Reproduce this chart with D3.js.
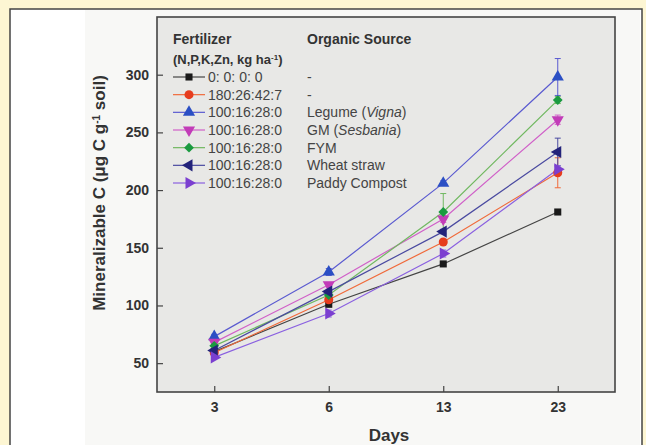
<!DOCTYPE html>
<html><head><meta charset="utf-8">
<script src="https://cdn.jsdelivr.net/npm/d3@7"></script>
<style>
html,body{margin:0;padding:0;background:#fdf6d3;}
svg{display:block;font-family:"Liberation Sans",Arial,sans-serif;}
</style></head>
<body>
<svg id="chart" width="646" height="445"></svg>
<script>
// ---- data ----
const days = ["3", "6", "13", "23"];
const fertilizer = ["0: 0: 0: 0", "180:26:42:7", "100:16:28:0", "100:16:28:0", "100:16:28:0", "100:16:28:0", "100:16:28:0"];
const organic = [["-"], ["-"], ["Legume (", "Vigna", ")"], ["GM (", "Sesbania", ")"], ["FYM"], ["Wheat straw"], ["Paddy Compost"]];
const control   = [60, 101, 136, 181];
const npkzn     = [59, 105, 155, 215];
const legume    = [73, 129, 206, 298];
const gm        = [68, 118, 175, 261];
const fym       = [65, 109, 181, 278];
const wheat     = [61, 112, 164, 233];
const paddy     = [55, 93, 145, 218];
const errControl = [1, 1, 1, 1];
const errNpkzn   = [1, 2, 2, 13];
const errLegume  = [2, 3, 2, 16];
const errGm      = [1, 2, 3, 4];
const errFym     = [1, 2, 16, 3];
const errWheat   = [1, 2, 2, 12];
const errPaddy   = [1, 3, 3, 3];
const yTicks = [50, 100, 150, 200, 250, 300];

const seriesVals = [control, npkzn, legume, gm, fym, wheat, paddy];
const seriesErr = [errControl, errNpkzn, errLegume, errGm, errFym, errWheat, errPaddy];
const colors = ["#1a1a1a", "#e63c1e", "#2b4fc4", "#c23cb8", "#1a9a40", "#23237a", "#7b3fd0"];
const lineColors = ["#444444", "#f06a3a", "#5a5ad0", "#d060c8", "#70b860", "#4a4aa0", "#8a60e0"];
// symbol type, rotation, size
const symbols = [[d3.symbolSquare, 0, 50], [d3.symbolCircle, 0, 64], [d3.symbolTriangle, 0, 64], [d3.symbolTriangle, 180, 64],
                 [d3.symbolSquare, 45, 48], [d3.symbolTriangle, -90, 64], [d3.symbolTriangle, 90, 64]];

const series = seriesVals.map((v, i) => ({
  i, color: colors[i], line: lineColors[i],
  pts: days.map((d, j) => ({day: d, v: v[j], e: seriesErr[i][j]}))
}));

const svg = d3.select("#chart");

// frame
svg.append("rect").attr("x", 10).attr("y", 9).attr("width", 632).attr("height", 445)
  .attr("fill", "#ffffff").attr("stroke", "#444").attr("stroke-width", 1.5);
svg.append("rect").attr("x", 85).attr("y", 10).attr("width", 555).attr("height", 440).attr("fill", "#f8f8f6");

const L = 157, R = 615, T = 17, B = 392;
const x = d3.scalePoint().domain(days).range([L, R]).padding(0.5);
const y = d3.scaleLinear().domain([25, 350]).range([B, T]);

// plot background
svg.append("rect").attr("x", L).attr("y", T).attr("width", R - L).attr("height", B - T)
  .attr("fill", "#e8e8e6");

// axes
const gx = svg.append("g").attr("transform", `translate(0,${B})`)
  .call(d3.axisBottom(x).tickSizeInner(-6).tickSizeOuter(0).tickPadding(10));
const gy = svg.append("g").attr("transform", `translate(${L},0)`)
  .call(d3.axisLeft(y).tickValues(yTicks).tickSizeInner(-6).tickSizeOuter(0).tickPadding(8).tickFormat(d3.format("d")));
[gx, gy].forEach(g => {
  g.select(".domain").remove();
  g.selectAll(".tick line").attr("stroke", "#444").attr("stroke-width", 1.2);
  g.selectAll(".tick text").attr("fill", "#333").attr("font-size", 14).attr("font-weight", "bold")
    .attr("font-family", "Liberation Sans, Arial, sans-serif");
});

// plot border
svg.append("rect").attr("x", L).attr("y", T).attr("width", R - L).attr("height", B - T)
  .attr("fill", "none").attr("stroke", "#444").attr("stroke-width", 1.6);

// axis titles
svg.append("text").attr("x", (L + R) / 2 + 3).attr("y", 441).attr("text-anchor", "middle")
  .attr("font-size", 17).attr("font-weight", "bold").attr("fill", "#333").text("Days");
const yt = svg.append("text").attr("transform", "translate(105,193) rotate(-90)").attr("text-anchor", "middle")
  .attr("font-size", 17).attr("font-weight", "bold").attr("fill", "#333");
yt.append("tspan").text("Mineralizable C (μg C g");
yt.append("tspan").attr("baseline-shift", "super").attr("font-size", 10).text("-1");
yt.append("tspan").text(" soil)");

// lines
const line = d3.line().x(d => x(d.day)).y(d => y(d.v));
const gS = svg.append("g");
series.forEach(s => {
  gS.append("path").datum(s.pts).attr("d", line).attr("fill", "none")
    .attr("stroke", s.line).attr("stroke-width", 1.2);
});
// error bars
series.forEach(s => {
  const g = gS.append("g").attr("stroke", s.line).attr("stroke-width", 1);
  s.pts.forEach(p => {
    if (p.e < 2) return;
    const cx = x(p.day);
    g.append("line").attr("x1", cx).attr("x2", cx).attr("y1", y(p.v - p.e)).attr("y2", y(p.v + p.e));
    [p.v - p.e, p.v + p.e].forEach(vv => g.append("line").attr("x1", cx - 3).attr("x2", cx + 3).attr("y1", y(vv)).attr("y2", y(vv)));
  });
});
// markers
function sym(i) { return d3.symbol().type(symbols[i][0]).size(symbols[i][2])(); }
series.forEach(s => {
  gS.selectAll(null).data(s.pts).join("path")
    .attr("d", sym(s.i))
    .attr("transform", d => `translate(${x(d.day)},${y(d.v)}) rotate(${symbols[s.i][1]})`)
    .attr("fill", s.color);
});

// legend
const lg = svg.append("g").attr("fill", "#333");
lg.append("text").attr("x", 173).attr("y", 44).attr("font-size", 14).attr("font-weight", "bold").text("Fertilizer");
lg.append("text").attr("x", 307).attr("y", 44).attr("font-size", 14).attr("font-weight", "bold").text("Organic Source");
const sub = lg.append("text").attr("x", 173).attr("y", 64).attr("font-size", 13).attr("font-weight", "bold");
sub.append("tspan").text("(N,P,K,Zn, kg ha");
sub.append("tspan").attr("baseline-shift", "super").attr("font-size", 8).text("-1");
sub.append("tspan").text(")");
const rowY = d3.scaleLinear().domain([0, 6]).range([77, 183]);
series.forEach(s => {
  const yy = rowY(s.i);
  lg.append("line").attr("x1", 173).attr("x2", 205).attr("y1", yy).attr("y2", yy)
    .attr("stroke", s.line).attr("stroke-width", 1.2);
  lg.append("path").attr("d", sym(s.i)).attr("transform", `translate(189,${yy}) rotate(${symbols[s.i][1]})`).attr("fill", s.color);
  lg.append("text").attr("x", 208).attr("y", yy + 5).attr("font-size", 14).attr("fill", "#444").text(fertilizer[s.i]);
  const t = lg.append("text").attr("x", 307).attr("y", yy + 5).attr("font-size", 14).attr("fill", "#444");
  organic[s.i].forEach((part, k) => {
    t.append("tspan").attr("font-style", k === 1 ? "italic" : "normal").text(part);
  });
});
</script>
</body></html>
